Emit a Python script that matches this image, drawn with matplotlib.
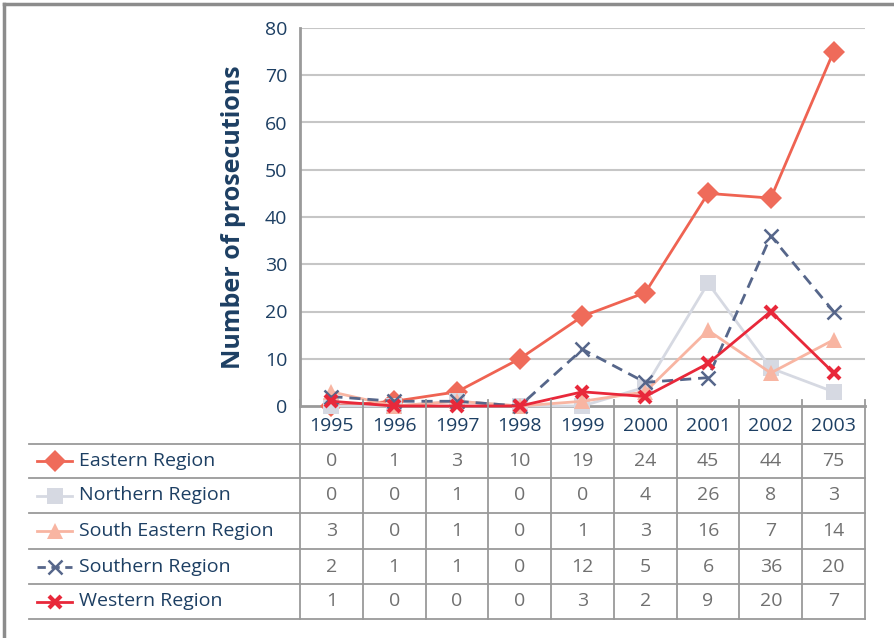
import matplotlib
matplotlib.use("Agg")
import matplotlib.pyplot as plt
from matplotlib.lines import Line2D

years = ["1995", "1996", "1997", "1998", "1999", "2000", "2001", "2002", "2003"]
eastern = [0, 1, 3, 10, 19, 24, 45, 44, 75]
northern = [0, 0, 1, 0, 0, 4, 26, 8, 3]
south_eastern = [3, 0, 1, 0, 1, 3, 16, 7, 14]
southern = [2, 1, 1, 0, 12, 5, 6, 36, 20]
western = [1, 0, 0, 0, 3, 2, 9, 20, 7]
names = ["Eastern Region", "Northern Region", "South Eastern Region",
         "Southern Region", "Western Region"]
yticks = [0, 10, 20, 30, 40, 50, 60, 70, 80]

W, H = 895, 638
navy = "#1d3f63"
grid_c = "#c6c6c6"
axis_c = "#9a9a9a"
fs = 14
plt.rcParams['font.family'] = ['Open Sans', 'DejaVu Sans']

# style for each series: color, marker, size, linestyle, fill
styles = [
    dict(color="#ef6352", marker="D", ms=11, ls="-", mec="#ef6b5a", mfc="#ef6b5a", mew=0),
    dict(color="#d6d9e2", marker="s", ms=11, ls="-", mec="#d6d9e2", mfc="#d6d9e2", mew=0),
    dict(color="#f8b5a2", marker="^", ms=12, ls="-", mec="#f8b5a2", mfc="#f8b5a2", mew=0),
    dict(color="#56668a", marker="x", ms=10, ls="--", mec="#56668a", mfc="#56668a", mew=1.8),
    dict(color="#e8283a", marker="x", ms=9, ls="-", mec="#e8283a", mfc="#e8283a", mew=3),
]
series = [eastern, northern, south_eastern, southern, western]

fig = plt.figure(figsize=(W / 100, H / 100), dpi=100)

# plot area in pixel coords
L, R, T, B = 300, 865, 28, 406
ax = fig.add_axes([L / W, 1 - B / H, (R - L) / W, (B - T) / H])
x = list(range(len(years)))
for vals, st in zip(series, styles):
    ax.plot(x, vals, color=st["color"], lw=2, ls=st["ls"], marker=st["marker"],
            ms=st["ms"], mec=st["mec"], mfc=st["mfc"], mew=st["mew"],
            clip_on=False, zorder=3, dashes=(4, 2.5) if st["ls"] == "--" else (None, None))
ax.set_xlim(-0.5, len(years) - 0.5)
ax.set_ylim(0, 80)
ax.set_yticks(yticks)
ax.set_yticklabels([str(v) for v in yticks], fontsize=fs, color=navy)
ax.set_xticks([])
ax.tick_params(axis="y", length=0, pad=9)
for v in yticks[1:]:
    ax.axhline(v, color=grid_c, lw=1.5, zorder=1)
for s in ["top", "right"]:
    ax.spines[s].set_visible(False)
ax.spines["left"].set_color(axis_c)
ax.spines["left"].set_linewidth(2)
ax.spines["bottom"].set_color(axis_c)
ax.spines["bottom"].set_linewidth(2)
ax.set_ylabel("Number of prosecutions", fontsize=18, fontweight="bold", color=navy, labelpad=14)

# data table below the plot
TL, TB = 29, 619
rows = [406, 444, 478, 513, 549, 584, 619]
unit = (R - L) / len(years)
xleft = -0.5 - (L - TL) / unit
tab = fig.add_axes([TL / W, 1 - TB / H, (R - TL) / W, (TB - B) / H])
tab.set_xlim(xleft, len(years) - 0.5)
tab.set_ylim(TB, B)
tab.axis("off")


def px2x(p):
    return -0.5 + (p - L) / unit


for yb in rows[1:]:
    tab.plot([xleft, len(years) - 0.5], [yb, yb], color=axis_c, lw=1.3, clip_on=False)
for i in range(len(years) + 1):
    tab.plot([i - 0.5, i - 0.5], [B - 6, TB], color=axis_c, lw=1.3, clip_on=False)

for i, yr in enumerate(years):
    tab.text(i, (rows[0] + rows[1]) / 2 + 1, yr, ha="center", va="center", fontsize=fs, color=navy)

for r, (name, vals, st) in enumerate(zip(names, series, styles)):
    yc = (rows[r + 1] + rows[r + 2]) / 2
    tab.add_line(Line2D([px2x(37), px2x(72)], [yc, yc], color=st["color"], lw=2,
                        ls=st["ls"], dashes=(3, 2) if st["ls"] == "--" else (None, None)))
    tab.plot([px2x(55)], [yc], marker=st["marker"], ms=st["ms"], mec=st["mec"],
             mfc=st["mfc"], mew=st["mew"], ls="none")
    tab.text(px2x(79), yc, name, ha="left", va="center", fontsize=fs, color=navy)
    for i, v in enumerate(vals):
        tab.text(i, yc, str(v), ha="center", va="center", fontsize=fs, color="#707070")

# outer frame
fig.add_artist(Line2D([4 / W, 4 / W], [0, 1 - 4 / H], color="#8c8c8c", lw=2.5))
fig.add_artist(Line2D([4 / W, 1], [1 - 4 / H, 1 - 4 / H], color="#8c8c8c", lw=2.5))

fig.savefig("out.png", dpi=100)
